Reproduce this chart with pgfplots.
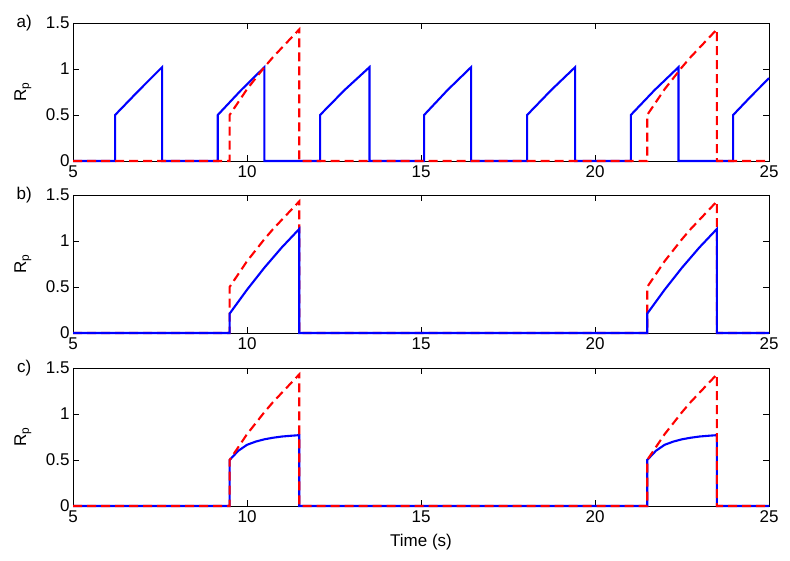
\documentclass[border=0pt]{standalone}
\usepackage{fontspec}
\setmainfont{Liberation Sans}
\usepackage{pgfplots}
\pgfplotsset{compat=1.18}
\begin{document}
\begin{tikzpicture}
\useasboundingbox (0,0) rectangle (790pt,561pt);
\pgfplotsset{
  panel/.style={
    scale only axis, width=696pt, height=138pt,
    xmin=5, xmax=25, ymin=0, ymax=1.5,
    xtick={5,10,15,20,25}, xticklabels={5,10,15,20,25},
    ytick={0,0.5,1,1.5}, yticklabels={0,0.5,1,1.5},
    tick align=inside, major tick length=6pt,
    axis line style={line width=0.9pt},
    every tick/.style={black, line width=0.9pt},
    tick label style={font=\fontsize{17}{19}\selectfont},
    xticklabel style={yshift=-1pt},
    label style={font=\fontsize{17}{19}\selectfont},
    ylabel={R\textsubscript{p}},
    ylabel style={at={(axis description cs:-0.072,0.5)}, anchor=center},
    clip=false,
  },
  bl/.style={color={rgb,255:red,0;green,0;blue,255}, line width=2.1pt, mark=none},
  rd/.style={color={rgb,255:red,255;green,0;blue,0}, line width=2.1pt, mark=none, dash pattern=on 9pt off 5pt},
}
% ---------- a) ----------
\begin{axis}[panel, at={(73pt,400pt)}, anchor=south west]
\addplot[bl] coordinates {(5,0)(6.21,0)(6.21,0.5)(6.9,0.77)(7.56,1.02)(7.56,0)(9.16,0)(9.16,0.5)(9.83,0.77)(10.5,1.02)(10.5,0)(12.1,0)(12.1,0.5)(12.8,0.77)(13.52,1.02)(13.52,0)(15.09,0)(15.09,0.5)(15.76,0.77)(16.44,1.02)(16.44,0)(18.05,0)(18.05,0.5)(18.74,0.77)(19.43,1.02)(19.43,0)(21.03,0)(21.03,0.5)(21.71,0.77)(22.4,1.02)(22.4,0)(23.97,0)(23.97,0.5)(24.5,0.71)(25,0.9)};
\addplot[rd] coordinates {(5,0)(9.5,0)(9.5,0.5)(9.75,0.64)(10,0.78)(10.25,0.90)(10.5,1.02)(10.75,1.13)(11,1.23)(11.25,1.33)(11.5,1.43)(11.5,0)(21.5,0)(21.5,0.5)(21.75,0.64)(22,0.78)(22.25,0.90)(22.5,1.02)(22.75,1.13)(23,1.23)(23.25,1.33)(23.5,1.43)(23.5,0)(25,0)};
\node[font=\fontsize{17}{19}\selectfont] at (axis description cs:-0.07,1) {a)};
\end{axis}
% ---------- b) ----------
\begin{axis}[panel, at={(73pt,228pt)}, anchor=south west]
\addplot[rd] coordinates {(5,0)(9.5,0)(9.5,0.5)(9.75,0.64)(10,0.78)(10.25,0.90)(10.5,1.02)(10.75,1.13)(11,1.23)(11.25,1.33)(11.5,1.43)(11.5,0)(21.5,0)(21.5,0.5)(21.75,0.64)(22,0.78)(22.25,0.90)(22.5,1.02)(22.75,1.13)(23,1.23)(23.25,1.33)(23.5,1.43)(23.5,0)(25,0)};
\addplot[bl] coordinates {(5,0)(9.5,0)(9.5,0.21)(10,0.47)(10.5,0.71)(11,0.93)(11.5,1.13)(11.5,0)(21.5,0)(21.5,0.21)(22,0.47)(22.5,0.71)(23,0.93)(23.5,1.13)(23.5,0)(25,0)};
\node[font=\fontsize{17}{19}\selectfont] at (axis description cs:-0.07,1) {b)};
\end{axis}
% ---------- c) ----------
\begin{axis}[panel, at={(73pt,55pt)}, anchor=south west, xlabel={Time (s)},
  xlabel style={at={(axis description cs:0.5,0)}, anchor=center, yshift=-36pt}]
\addplot[bl] coordinates {(5,0)(9.5,0)(9.5,0.5)(9.75,0.6)(10,0.665)(10.25,0.70)(10.5,0.725)(10.75,0.742)(11,0.755)(11.25,0.763)(11.5,0.77)(11.5,0)(21.5,0)(21.5,0.5)(21.75,0.6)(22,0.665)(22.25,0.70)(22.5,0.725)(22.75,0.742)(23,0.755)(23.25,0.763)(23.5,0.77)(23.5,0)(25,0)};
\addplot[rd] coordinates {(5,0)(9.5,0)(9.5,0.5)(9.75,0.64)(10,0.78)(10.25,0.90)(10.5,1.02)(10.75,1.13)(11,1.23)(11.25,1.33)(11.5,1.43)(11.5,0)(21.5,0)(21.5,0.5)(21.75,0.64)(22,0.78)(22.25,0.90)(22.5,1.02)(22.75,1.13)(23,1.23)(23.25,1.33)(23.5,1.43)(23.5,0)(25,0)};
\node[font=\fontsize{17}{19}\selectfont] at (axis description cs:-0.07,1) {c)};
\end{axis}
\end{tikzpicture}
\end{document}
